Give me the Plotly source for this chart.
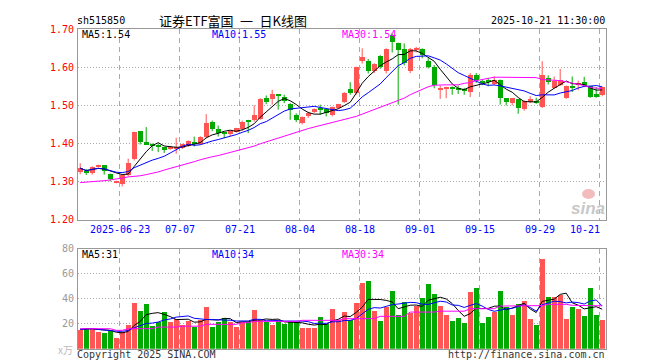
import plotly.graph_objects as go
import pandas as pd

W, H = 660, 360

# ---------------- data ----------------
opens = [1.325,1.327,1.321,1.338,1.342,1.320,1.297,1.292,1.315,1.357,
         1.431,1.402,1.398,1.395,1.389,1.385,1.387,1.387,1.393,1.404,
         1.398,1.416,1.456,1.438,1.427,1.425,1.430,1.436,1.461,1.460,
         1.464,1.519,1.517,1.527,1.521,1.502,1.475,1.452,1.471,1.482,
         1.491,1.489,1.475,1.493,1.509,1.543,1.532,1.615,1.615,1.589,
         1.630,1.589,1.683,1.664,1.648,1.589,1.646,1.647,1.615,1.599,
         1.540,1.541,1.547,1.542,1.543,1.535,1.579,1.562,1.563,1.556,
         1.565,1.518,1.506,1.515,1.489,1.508,1.510,1.495,1.572,1.545,
         1.553,1.519,1.547,1.553,1.560,1.551,1.528,1.526]
highs = [1.348,1.333,1.340,1.344,1.343,1.321,1.302,1.318,1.360,1.431,
         1.432,1.443,1.400,1.400,1.390,1.393,1.415,1.399,1.408,1.418,
         1.419,1.477,1.460,1.447,1.428,1.434,1.441,1.460,1.462,1.500,
         1.519,1.526,1.541,1.528,1.528,1.506,1.479,1.471,1.483,1.492,
         1.502,1.492,1.497,1.504,1.535,1.561,1.602,1.650,1.622,1.611,
         1.632,1.650,1.689,1.665,1.663,1.651,1.654,1.650,1.624,1.606,
         1.552,1.549,1.550,1.552,1.546,1.585,1.585,1.568,1.572,1.576,
         1.568,1.519,1.519,1.516,1.513,1.524,1.520,1.616,1.579,1.576,
         1.596,1.552,1.576,1.565,1.575,1.552,1.548,1.549]
lows = [1.319,1.317,1.318,1.336,1.318,1.300,1.295,1.287,1.313,1.355,
        1.397,1.396,1.380,1.377,1.375,1.383,1.373,1.385,1.391,1.392,
        1.397,1.414,1.432,1.418,1.414,1.419,1.428,1.433,1.427,1.457,
        1.462,1.503,1.502,1.489,1.506,1.462,1.456,1.450,1.467,1.480,
        1.475,1.471,1.471,1.491,1.506,1.528,1.528,1.610,1.584,1.585,
        1.596,1.584,1.639,1.502,1.605,1.585,1.639,1.624,1.597,1.545,
        1.517,1.519,1.528,1.530,1.528,1.522,1.559,1.553,1.550,1.553,
        1.502,1.500,1.500,1.478,1.486,1.506,1.504,1.493,1.555,1.543,
        1.551,1.517,1.535,1.540,1.548,1.520,1.520,1.524]
closes = [1.335,1.322,1.338,1.342,1.328,1.306,1.299,1.316,1.348,1.428,
          1.402,1.397,1.394,1.389,1.384,1.391,1.391,1.397,1.406,1.399,
          1.417,1.454,1.436,1.427,1.425,1.432,1.439,1.456,1.458,1.474,
          1.517,1.509,1.528,1.524,1.512,1.488,1.460,1.468,1.479,1.490,
          1.488,1.480,1.495,1.502,1.532,1.532,1.599,1.626,1.589,1.608,
          1.599,1.648,1.667,1.645,1.610,1.647,1.648,1.632,1.599,1.554,
          1.542,1.547,1.541,1.540,1.537,1.579,1.565,1.559,1.562,1.565,
          1.518,1.509,1.519,1.493,1.511,1.515,1.507,1.579,1.561,1.563,
          1.567,1.550,1.545,1.559,1.553,1.522,1.522,1.547]
volumes = [15.5,16.5,16.0,13.6,12.8,14.7,9.0,13.3,19.2,36.8,
           30.7,36.0,18.7,22.0,29.9,21.9,24.0,19.5,22.7,18.0,
           23.2,33.6,17.9,21.9,24.8,22.0,17.9,21.3,21.3,31.2,
           23.2,21.9,19.5,22.7,20.0,22.7,21.3,17.0,17.0,16.5,
           25.9,20.0,32.0,23.0,29.9,23.5,36.8,52.8,54.4,30.4,
           22.4,33.3,46.4,27.5,37.9,28.8,34.1,40.8,52.3,44.3,
           34.4,27.2,22.4,24.8,20.8,45.3,48.8,20.8,25.6,29.3,
           46.4,33.9,27.2,36.0,38.1,24.0,19.2,72.0,41.6,41.3,
           43.2,24.0,33.6,32.0,26.4,48.8,27.2,23.5]
ma30_price = [1.297,1.298,1.299,1.300,1.302,1.304,1.306,1.309,1.312,1.313,
              1.315,1.318,1.321,1.325,1.330,1.334,1.338,1.343,1.347,1.352,
              1.357,1.362,1.365,1.368,1.372,1.376,1.379,1.383,1.387,1.393,
              1.399,1.404,1.410,1.416,1.420,1.425,1.430,1.436,1.439,1.443,
              1.447,1.451,1.454,1.457,1.461,1.466,1.471,1.477,1.483,1.489,
              1.495,1.501,1.506,1.513,1.519,1.528,1.535,1.543,1.549,1.553,
              1.554,1.554,1.554,1.554,1.558,1.560,1.565,1.568,1.572,1.574,
              1.574,1.574,1.574,1.574,1.574,1.574,1.573,1.568,1.567,1.566,
              1.565,1.562,1.559,1.555,1.552,1.547,1.545,1.544]
ma30_vol = [16,16,16,16,16,16,14.7,14.7,16,16,
            16,16,16,17.3,17.3,17.3,17.3,18,18,18,
            18,19.5,19.5,19.5,19.5,19.5,19.5,20.8,20.8,21.9,
            21.9,21.9,21.9,21.9,21.9,21.9,21.9,22.7,22.7,22.7,
            22.7,22.7,22.7,22.7,24,24,24,24,24,24,
            25.9,25.9,25.9,25.9,25.9,29.3,29.3,29.3,29.3,29.3,
            30,30,30,30,30,32,32,32,32,32,
            34.1,34.1,34.1,34.1,34.1,34.1,34.1,34.5,35.5,35.5,
            35.5,35.5,34.7,34.7,34.7,34.7,34.7,34.3]
date_idx = [7, 17, 27, 37, 47, 57, 67, 77, 87]
date_labels = ["2025-06-23", "07-07", "07-21", "08-04", "08-18", "09-01", "09-15", "09-29", "10-21"]
price_ticks = [1.70, 1.60, 1.50, 1.40, 1.30, 1.20]
vol_ticks = [80, 60, 40, 20]

# ---------------- derived ----------------
n = len(closes)
idx = list(range(n))
ma5 = pd.Series(closes).rolling(5, min_periods=1).mean()
ma10 = pd.Series(closes).rolling(10, min_periods=1).mean()
vma5 = pd.Series(volumes).rolling(5, min_periods=1).mean()
vma10 = pd.Series(volumes).rolling(10, min_periods=1).mean()

RED = "#ff5555"
GREEN = "#00aa00"
up = [c >= o for o, c in zip(opens, closes)]

def px(x):
    return x / W

def py(y):
    return 1 - y / H

X0, X1 = 69.8, 597.8
XR = [-0.4, 87.6]
MAIN = [py(211.5), py(21.3)]
VOL = [py(340.7), py(240.7)]
MONO = "DejaVu Sans Mono"

fig = go.Figure()

# wicks
for flag, col in ((True, RED), (False, GREEN)):
    wx, wy = [], []
    for i in idx:
        if up[i] == flag:
            wx += [i, i, None]
            wy += [lows[i], highs[i], None]
    fig.add_trace(go.Scatter(x=wx, y=wy, mode="lines", line=dict(color=col, width=1),
                             hoverinfo="skip", xaxis="x", yaxis="y"))

# bodies
for flag, col in ((True, RED), (False, GREEN)):
    bx, bb, bh = [], [], []
    for i in idx:
        if up[i] == flag:
            bx.append(i)
            bb.append(min(opens[i], closes[i]))
            bh.append(max(abs(closes[i] - opens[i]), 0.0028))
    fig.add_trace(go.Bar(x=bx, y=bh, base=bb, width=0.8, marker=dict(color=col, line=dict(width=0)),
                         hoverinfo="skip", xaxis="x", yaxis="y"))

# price MAs
for s, col in ((ma5, "black"), (ma10, "blue"), (ma30_price, "magenta")):
    fig.add_trace(go.Scatter(x=idx, y=list(s), mode="lines", line=dict(color=col, width=1),
                             hoverinfo="skip", xaxis="x", yaxis="y"))

# volume bars
fig.add_trace(go.Bar(x=idx, y=volumes, width=0.82,
                     marker=dict(color=[RED if u else GREEN for u in up], line=dict(width=0)),
                     hoverinfo="skip", xaxis="x2", yaxis="y2"))
for s, col in ((vma5, "black"), (vma10, "blue"), (ma30_vol, "magenta")):
    fig.add_trace(go.Scatter(x=idx, y=list(s), mode="lines", line=dict(color=col, width=1),
                             hoverinfo="skip", xaxis="x2", yaxis="y2"))

grid_x = [d - 0.4 for d in date_idx]
axis_common = dict(showline=True, mirror=True, linecolor="#999999", linewidth=1,
                   zeroline=False, showticklabels=False, ticks="", fixedrange=True)
fig.update_layout(
    width=W, height=H, margin=dict(l=0, r=0, t=0, b=0),
    paper_bgcolor="white", plot_bgcolor="white", showlegend=False,
    barmode="overlay", bargap=0,
    xaxis=dict(domain=[px(X0), px(X1)], range=XR, anchor="y", tickvals=grid_x,
               showgrid=True, gridcolor="#aaaaaa", griddash="5px,4px", gridwidth=1, **axis_common),
    yaxis=dict(domain=MAIN, range=[1.20, 1.70], anchor="x", tickvals=price_ticks,
               showgrid=True, gridcolor="#aaaaaa", griddash="1px,2px", gridwidth=1, **axis_common),
    xaxis2=dict(domain=[px(X0), px(X1)], range=XR, anchor="y2", tickvals=grid_x,
                showgrid=True, gridcolor="#aaaaaa", griddash="5px,4px", gridwidth=1, **axis_common),
    yaxis2=dict(domain=VOL, range=[0, 80], anchor="x2", tickvals=vol_ticks,
                showgrid=True, gridcolor="#aaaaaa", griddash="1px,2px", gridwidth=1, **axis_common),
)

ann = []
def text(x, y, s, color="#000000", size=10, family=MONO, xanchor="left", yanchor="middle"):
    ann.append(dict(x=px(x), y=py(y), xref="paper", yref="paper", text=s, showarrow=False,
                    xanchor=xanchor, yanchor=yanchor, borderpad=0,
                    font=dict(family=family, size=size, color=color)))

# header
text(68, 13, "sh515850", "#000000")
text(150, 13, "证券ETF富国\u2002一\u2002日K线图", "#000000", size=13, family="Noto Sans CJK SC")
text(598, 13, "2025-10-21 11:30:00", "#000000", xanchor="right")

# legends
text(73, 26.5, "MA5:%.2f" % ma5.iloc[-1], "black")
text(203, 26.5, "MA10:%.2f" % ma10.iloc[-1], "blue")
text(333, 26.5, "MA30:%.2f" % ma30_price[-1], "magenta")
text(73, 246.5, "MA5:%d" % int(vma5.iloc[-1]), "black")
text(203, 246.5, "MA10:%d" % int(vma10.iloc[-1]), "blue")
text(333, 246.5, "MA30:%d" % int(ma30_vol[-1]), "magenta")

# y labels
for v in price_ticks:
    y = 211.5 - (v - 1.20) / 0.5 * (211.5 - 21.3)
    text(67, y, "%.2f" % v, "#ff0000", xanchor="right")
for v in vol_ticks:
    y = 340.7 - v / 80 * 100
    text(67, y, "%d" % v, "#999999", xanchor="right")
text(66, 341, "x万", "#bbbbbb", size=10, family="Noto Sans CJK SC", xanchor="right")

# date labels
for d, lab in zip(date_idx, date_labels):
    xpix = X0 + (d - 0.4 - XR[0]) / (XR[1] - XR[0]) * (X1 - X0)
    if d == date_idx[-1]:
        text(xpix + 1, 221, lab, "#0000ff", xanchor="right")
    else:
        text(xpix, 221, lab, "#0000ff", xanchor="center")

# footer
text(68, 346, "Copyright 2025 SINA.COM", "#333333")
text(598, 346, "http://finance.sina.com.cn", "#333333", xanchor="right")

# watermark: "sina" text with a pale eye-shaped logo above it
text(598, 200, "<b><i>sina</i></b>", "#c8c8c8", size=17, family="Liberation Sans", xanchor="right")
fig.add_shape(type="circle", xref="paper", yref="paper",
              x0=px(574), x1=px(587), y0=py(191), y1=py(181),
              fillcolor="#f3bcbc", line=dict(width=0), layer="below")

fig.update_layout(annotations=ann)
fig.write_html("out.html")
